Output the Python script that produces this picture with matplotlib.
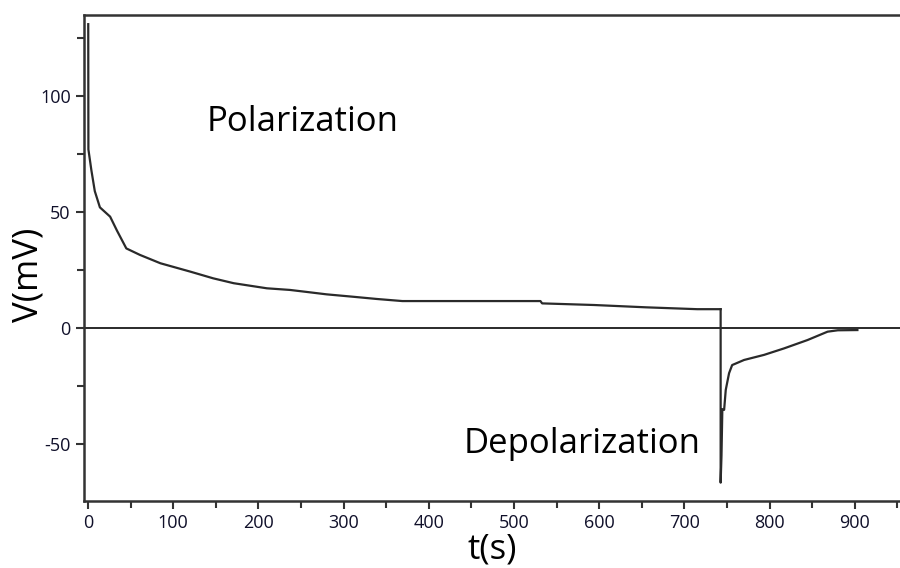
import matplotlib.pyplot as plt
from matplotlib.ticker import MultipleLocator

plt.rcParams['font.family'] = ['Open Sans', 'DejaVu Sans']
plt.rcParams['axes.unicode_minus'] = False

# polarization branch (t in s, V in mV)
tPol = [0.3, 0.5, 4, 8, 14, 26, 34, 45, 61, 85, 120, 147, 171, 210, 237,
        253, 280, 310, 339, 369, 531, 533, 594, 655, 715, 742.5]
vPol = [131, 77, 68, 59, 52, 48, 42, 34.3, 31.5, 27.9, 24.3, 21.4, 19.3, 17.1, 16.4,
        15.7, 14.5, 13.5, 12.5, 11.6, 11.6, 10.6, 9.9, 8.9, 8.1, 8.1]

# depolarization branch
tDep = [742.5, 742.5, 743.5, 744.5, 746.6, 748.5, 752.4, 756, 770, 793.5,
        817, 844.5, 868, 880, 903]
vDep = [8.1, -66.7, -55, -35, -35.3, -26.7, -19.5, -16, -13.8, -11.6,
        -8.8, -5.2, -1.6, -1.0, -0.9]

fig = plt.figure(figsize=(9, 5.68), dpi=100)
ax = fig.add_axes([0.0933, 0.118, 0.9067, 0.8558])

lineColor = '#2a2a2a'
ax.plot(tPol, vPol, color=lineColor, lw=1.6)
ax.plot(tDep, vDep, color=lineColor, lw=1.6)
ax.axhline(0, color=lineColor, lw=1.4)

ax.set_xlim(-4.7, 953)
ax.set_ylim(-74.6, 135)

ax.xaxis.set_major_locator(MultipleLocator(100))
ax.xaxis.set_minor_locator(MultipleLocator(50))
ax.yaxis.set_major_locator(MultipleLocator(50))
ax.yaxis.set_minor_locator(MultipleLocator(25))
ax.tick_params(which='both', direction='out', color='#333333', width=1.5,
               labelsize=13, labelcolor='#10102a')
ax.tick_params(which='major', length=6)
ax.tick_params(which='minor', length=5)

for side in ['left', 'bottom', 'top']:
    ax.spines[side].set_color('#333333')
    ax.spines[side].set_linewidth(1.8)
ax.spines['right'].set_visible(False)

ax.set_xlabel('t(s)', fontsize=25, labelpad=0)
ax.set_ylabel('V(mV)', fontsize=25)
ax.yaxis.set_label_coords(-0.047, 0.465)

ax.text(252, 89, 'Polarization', fontsize=25, ha='center', va='center')
ax.text(580, -50, 'Depolarization', fontsize=25, ha='center', va='center')

fig.savefig('out.png', dpi=100)
